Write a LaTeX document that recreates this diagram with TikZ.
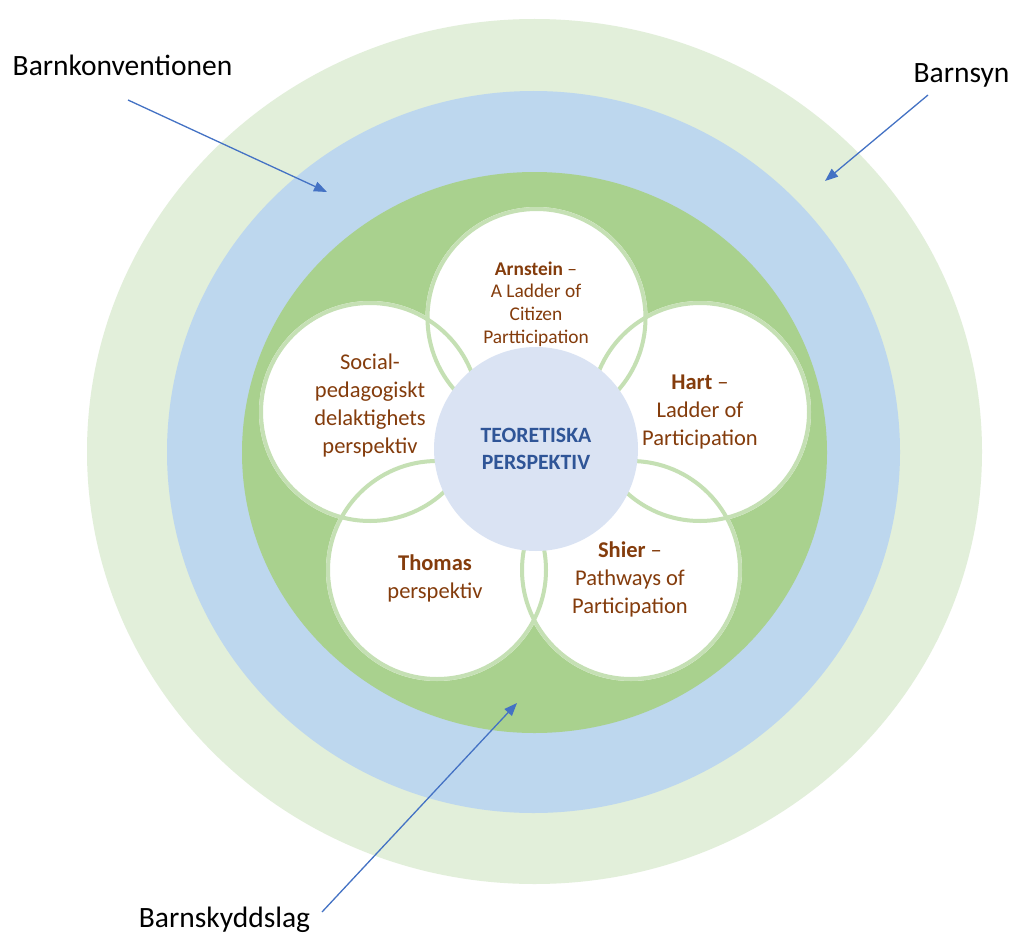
\documentclass[tikz,border=0pt]{standalone}
\usepackage{fontspec}
\setmainfont{Carlito}
\usetikzlibrary{arrows.meta}
\definecolor{ringouter}{HTML}{E2EFDA}
\definecolor{ringblue}{HTML}{BDD7EE}
\definecolor{ringgreen}{HTML}{A9D18E}
\definecolor{petalrim}{HTML}{C5E0B4}
\definecolor{corefill}{HTML}{DAE3F3}
\definecolor{coretext}{HTML}{2F5597}
\definecolor{browntext}{HTML}{843C0C}
\definecolor{arrowblue}{HTML}{4472C4}
\begin{document}
\begin{tikzpicture}[x=1pt,y=-1pt,
  petal/.style={circle,fill=white,minimum size=222pt,inner sep=0pt,outer sep=0pt},
  petalline/.style={draw=petalrim,line width=4pt},
  core/.style={circle,fill=corefill,minimum size=204pt,inner sep=0pt,align=center,
    text=coretext,font=\bfseries\fontsize{21.8}{27}\selectfont},
  ptext/.style={align=center,inner sep=0pt,text=browntext,font=\fontsize{22.5}{28}\selectfont},
  psmall/.style={ptext,font=\fontsize{19.4}{22.8}\selectfont},
  outlabel/.style={inner sep=0pt,anchor=base,font=\fontsize{29.5}{35}\selectfont},
  pointer/.style={draw=arrowblue,line width=1.3pt,-{Triangle[length=13pt,width=10pt]}}]
\useasboundingbox (0,0) rectangle (1014,939);
\fill[white] (0,0) rectangle (1014,939);
% rings
\fill[ringouter] (534.5,451.5) ellipse [x radius=447.5pt, y radius=432.5pt];
\fill[ringblue] (533.5,452) ellipse [x radius=366.5pt, y radius=361pt];
\fill[ringgreen] (534.5,452.5) ellipse [x radius=292.5pt, y radius=280.5pt];
% petals
\node[petal] (parn) at (536.5,318) {};
\node[petal] (psoc) at (370,412) {};
\node[petal] (phart) at (700,412) {};
\node[petal] (ptho) at (437,570) {};
\node[petal] (pshi) at (631,570) {};
\foreach \p in {parn,psoc,phart,ptho,pshi}
  \draw[petalline] (\p.center) circle [radius=109pt];
% centre
\node[core] (kern) at (536,449) {TEORETISKA\\PERSPEKTIV};
% petal texts
\node[psmall] (tarn) at (536,304) {\textbf{Arnstein} –\\A Ladder of\\Citizen\\Partticipation};
\node[ptext] (tsoc) at (370,405) {Social-\\pedagogiskt\\delaktighets\\perspektiv};
\node[ptext] (thart) at (700,412) {\textbf{Hart} –\\Ladder of\\Participation};
\node[ptext] (ttho) at (435,578) {\textbf{Thomas}\\perspektiv};
\node[ptext] (tshi) at (630,579) {\textbf{Shier} –\\Pathways of\\Participation};
% outer labels
\node[outlabel] (lkon) at (122.5,76) {Barnkonventionen};
\node[outlabel] (lsyn) at (961.5,83) {Barnsyn};
\node[outlabel] (lskydd) at (224.5,927) {Barnskyddslag};
% arrows
\coordinate (konfrom) at (128,100);
\coordinate (konto) at (327,192);
\coordinate (synfrom) at (928,95);
\coordinate (synto) at (825,181);
\coordinate (skyddfrom) at (322,912);
\coordinate (skyddto) at (517,703);
\draw[pointer] (konfrom) -- (konto);
\draw[pointer] (synfrom) -- (synto);
\draw[pointer] (skyddfrom) -- (skyddto);
\end{tikzpicture}
\end{document}
